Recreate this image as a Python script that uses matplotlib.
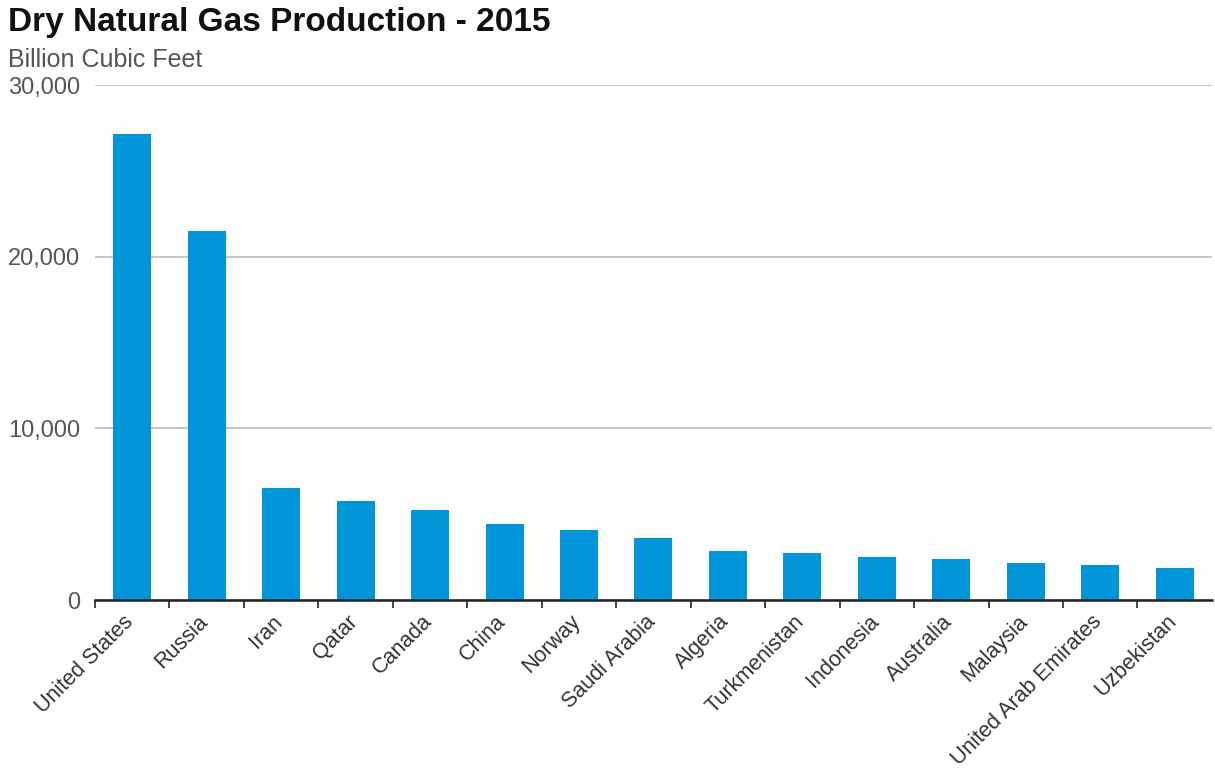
import matplotlib.pyplot as plt
import matplotlib.transforms as mtransforms
import numpy as np
from matplotlib.ticker import FuncFormatter, FixedLocator

# Dry natural gas production by country, 2015 (billion cubic feet)
countries = ["United States", "Russia", "Iran", "Qatar", "Canada", "China", "Norway",
             "Saudi Arabia", "Algeria", "Turkmenistan", "Indonesia", "Australia",
             "Malaysia", "United Arab Emirates", "Uzbekistan"]
production = [27120, 21500, 6540, 5760, 5270, 4430, 4100, 3590, 2830, 2710,
              2480, 2360, 2130, 2010, 1880]
y_ticks = [0, 10000, 20000, 30000]

plt.rcParams['font.family'] = ['Liberation Sans', 'DejaVu Sans']

fig = plt.figure(figsize=(12.15, 7.73), dpi=100)
ax = fig.add_axes([0.0782, 0.2238, 0.9193, 0.6662])

x = np.arange(len(countries))
ax.bar(x, production, width=0.51, color='#0095d8', zorder=3)

ax.set_xlim(-0.5, len(countries) - 0.5)
ax.set_ylim(0, 30000)

# horizontal grid
ax.set_yticks(y_ticks)
ax.yaxis.set_major_formatter(FuncFormatter(lambda v, p: f"{int(v):,}"))
ax.grid(axis='y', color='#c4c4c4', linewidth=1.3, zorder=0)
ax.tick_params(axis='y', length=0, pad=10.5, labelsize=17, labelcolor='#555555')

# category labels at centres, tick marks at the boundaries
ax.set_xticks(x)
ax.set_xticklabels(countries, rotation=45, ha='right', va='top', rotation_mode='anchor',
                   fontsize=15.5, color='#333333')
ax.tick_params(axis='x', which='major', length=0, pad=8)
shift = mtransforms.ScaledTranslation(-9 / 100, 0, fig.dpi_scale_trans)
for lbl in ax.get_xticklabels():
    lbl.set_transform(lbl.get_transform() + shift)
ax.xaxis.set_minor_locator(FixedLocator(np.arange(-0.5, len(countries) - 0.5, 1.0)))
ax.tick_params(axis='x', which='minor', length=6, width=1.2, color='#222222', direction='out')

for side in ['left', 'right', 'top']:
    ax.spines[side].set_visible(False)
ax.spines['bottom'].set_color('#222222')
ax.spines['bottom'].set_linewidth(1.8)
ax.spines['bottom'].set_zorder(4)

fig.text(0.0066, 0.971, "Dry Natural Gas Production - 2015", fontsize=24,
         fontweight='bold', color='#111111', ha='left', va='center')
fig.text(0.0066, 0.922, "Billion Cubic Feet", fontsize=18, color='#555555',
         ha='left', va='center')

fig.savefig('out.png', dpi=100)
